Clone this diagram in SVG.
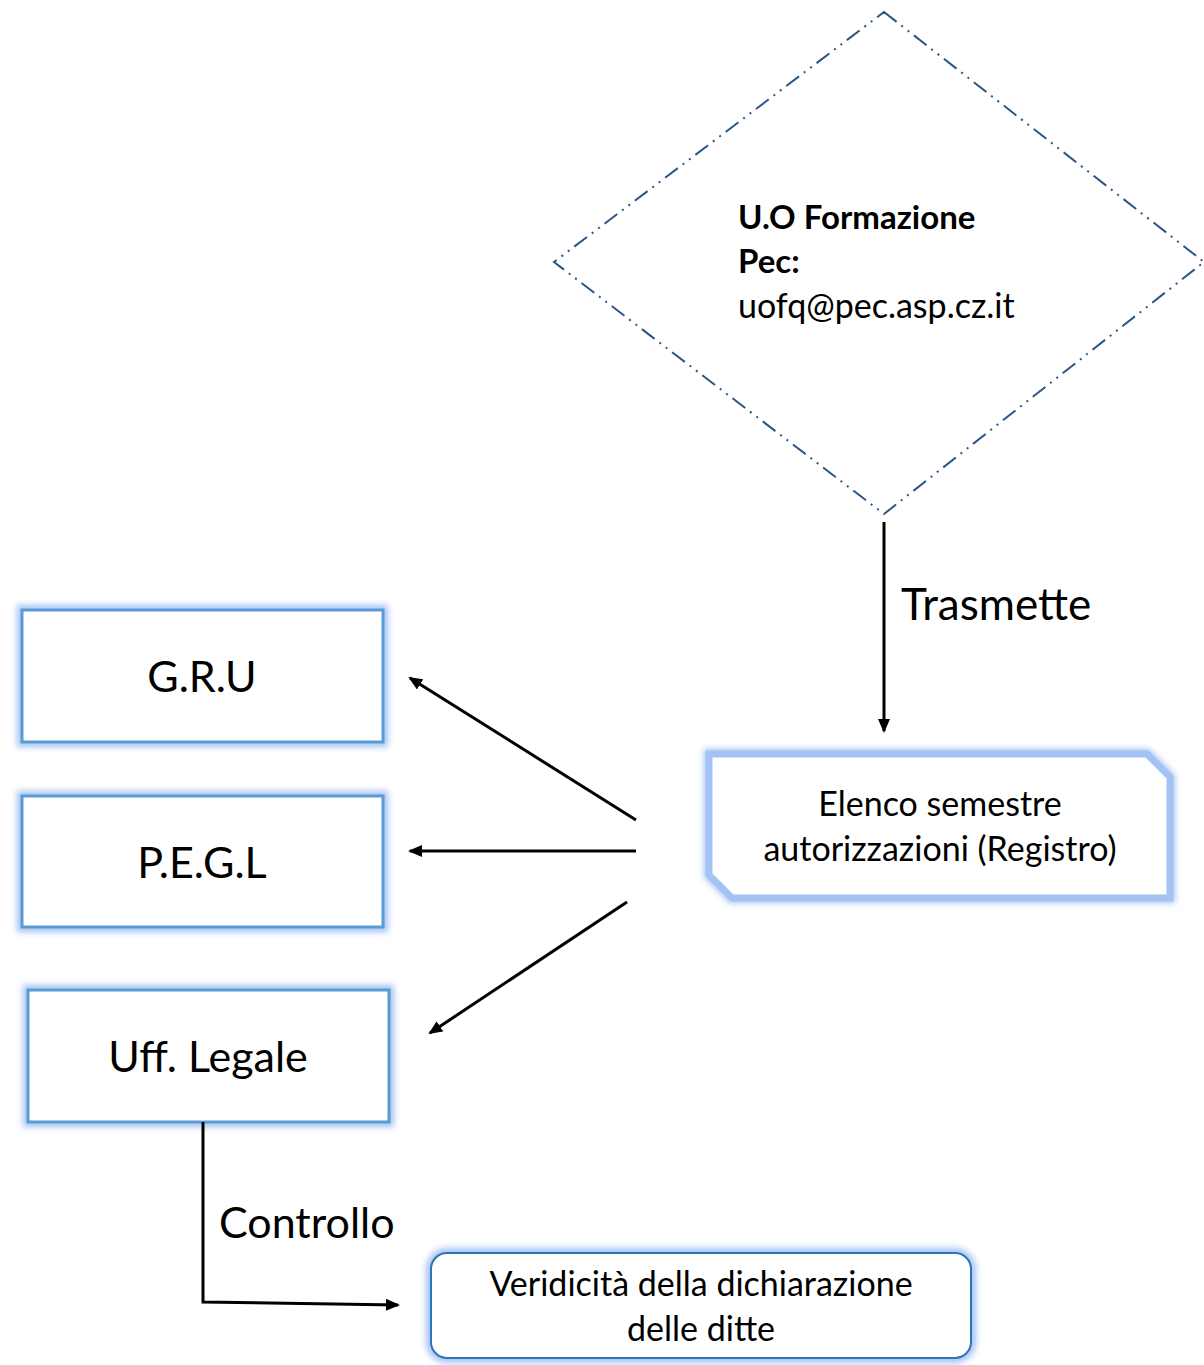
<svg xmlns="http://www.w3.org/2000/svg" width="1204" height="1365" viewBox="0 0 1204 1365">
<defs>
<filter id="glow" x="-20%" y="-20%" width="140%" height="140%">
<feGaussianBlur stdDeviation="3"/>
</filter>
<marker id="arr" markerWidth="14" markerHeight="12" refX="12" refY="6" orient="auto" markerUnits="userSpaceOnUse" viewBox="0 0 14 12">
<path d="M0,0 L14,6 L0,12 z" fill="#000"/>
</marker>
</defs>
<style>
text{font-family:Lato,"Open Sans","Liberation Sans",sans-serif;fill:#000}
.glow{fill:none;stroke:#a4c2f4;stroke-width:10;filter:url(#glow)}
.box{fill:#fff;stroke:#5b9bd5;stroke-width:3}
.conn{stroke:#000;stroke-width:3;fill:none;marker-end:url(#arr)}
</style>
<rect width="1204" height="1365" fill="#fff"/>

<g id="node-uo">
<polygon points="884,12 1204,262 884,514 554,262" fill="#fff" stroke="#2a5585" stroke-width="2" stroke-dasharray="16,6,2,6,2,6"/>
<text x="738" y="229" font-size="33" font-weight="bold">U.O Formazione</text>
<text x="738" y="273" font-size="33" font-weight="bold">Pec:</text>
<text x="738" y="318" font-size="34">uofq@pec.asp.cz.it</text>
</g>

<g id="node-registro">
<polygon class="glow" points="709,754 1147,754 1170,777 1170,898 732,898 709,875"/>
<polygon points="709,754 1147,754 1170,777 1170,898 732,898 709,875" fill="#fff" stroke="#a4c2f4" stroke-width="7"/>
<text x="940" y="816" font-size="34" text-anchor="middle">Elenco semestre</text>
<text x="940" y="861" font-size="34" text-anchor="middle">autorizzazioni (Registro)</text>
</g>

<g id="node-gru">
<rect class="glow" x="22" y="610" width="361" height="132"/>
<rect class="box" x="22" y="610" width="361" height="132"/>
<text x="202" y="692" font-size="43" text-anchor="middle">G.R.U</text>
</g>

<g id="node-pegl">
<rect class="glow" x="22" y="796" width="361" height="131"/>
<rect class="box" x="22" y="796" width="361" height="131"/>
<text x="202" y="878" font-size="43" text-anchor="middle">P.E.G.L</text>
</g>

<g id="node-legale">
<rect class="glow" x="28" y="990" width="361" height="132"/>
<rect class="box" x="28" y="990" width="361" height="132"/>
<text x="208" y="1072" font-size="43" text-anchor="middle">Uff. Legale</text>
</g>

<g id="node-veridicita">
<rect class="glow" x="431" y="1253" width="540" height="105" rx="16"/>
<rect x="431" y="1253" width="540" height="105" rx="16" fill="#fff" stroke="#2e75b6" stroke-width="2"/>
<text x="701" y="1296" font-size="34" text-anchor="middle">Veridicità della dichiarazione</text>
<text x="701" y="1341" font-size="34" text-anchor="middle">delle ditte</text>
</g>

<g id="connectors">
<line class="conn" x1="884" y1="522" x2="884" y2="731"/>
<text x="901" y="620" font-size="44">Trasmette</text>
<line class="conn" x1="636" y1="820" x2="410" y2="678"/>
<line class="conn" x1="636" y1="851" x2="410" y2="851"/>
<line class="conn" x1="627" y1="902" x2="430" y2="1033"/>
<polyline class="conn" points="203,1122 203,1302 398,1305"/>
<text x="219" y="1238" font-size="43">Controllo</text>
</g>
</svg>
